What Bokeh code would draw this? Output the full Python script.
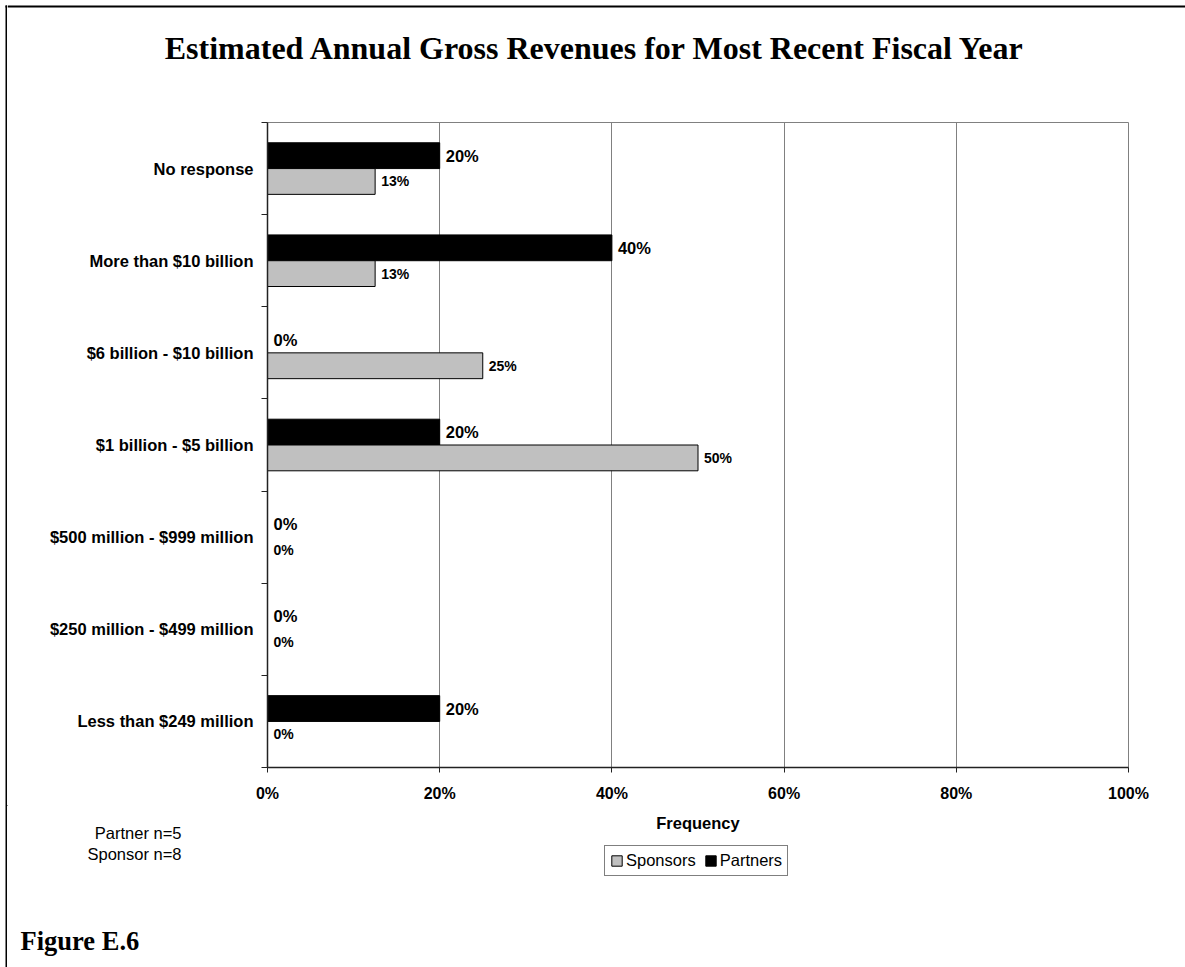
from bokeh.plotting import figure
from bokeh.layouts import row, column
from bokeh.models import (Range1d, FixedTicker, LinearAxis, CustomJSTickFormatter,
                          NumeralTickFormatter, ColumnDataSource, Label, Legend,
                          LegendItem, Grid)
from bokeh.embed import file_html
from bokeh.resources import INLINE
from bokeh.core.properties import value

# ---------------- data ----------------
categories = ["No response", "More than $10 billion", "$6 billion - $10 billion",
              "$1 billion - $5 billion", "$500 million - $999 million",
              "$250 million - $499 million", "Less than $249 million"]  # top to bottom
partners = [0.20, 0.40, 0.00, 0.20, 0.00, 0.00, 0.20]
sponsors = [0.125, 0.125, 0.25, 0.50, 0.00, 0.00, 0.00]
x_ticks = [0, 0.2, 0.4, 0.6, 0.8, 1.0]
series_names = ["Sponsors", "Partners"]
title_text = "Estimated Annual Gross Revenues for Most Recent Fiscal Year"
x_label = "Frequency"
notes = ["Partner n=5", "Sponsor n=8"]
figure_caption = "Figure E.6"

# ---------------- layout constants (page pixels) ----------------
W, H = 1185, 967
STRIP = 7                 # left strip holding the outer border line
CW = W - STRIP            # width of the content column
FL, FR, FT, FB = 267, 1128, 122, 767   # plot frame on the page
MAIN_TOP = 114
MAIN_BOTTOM = 805
SANS = "Liberation Sans"
SERIF = "Liberation Serif"
GRAY = "#c0c0c0"


def deco_fig(w, h):
    f = figure(width=w, height=h, output_backend="svg", toolbar_location=None,
               x_range=Range1d(0, w), y_range=Range1d(h, 0),
               x_axis_type=None, y_axis_type=None, min_border=0,
               frame_align=False)
    f.outline_line_color = None
    f.background_fill_color = "white"
    f.border_fill_color = "white"
    return f


n = len(categories)
bottom_to_top = categories[::-1]
pos = [n - i - 0.5 for i in range(n)]
off = 0.14
bar_h = 0.28


def pct(v):
    return f"{int(v * 100 + 0.5)}%"


src_p = ColumnDataSource(dict(y=[p_ + off for p_ in pos], v=partners,
                              lab=[pct(v) for v in partners]))
src_s = ColumnDataSource(dict(y=[p_ - off for p_ in pos], v=sponsors,
                              lab=[pct(v) for v in sponsors]))

# ---------------- main chart ----------------
p = figure(width=CW, height=MAIN_BOTTOM - MAIN_TOP, output_backend="svg",
           toolbar_location=None, x_range=Range1d(0, 1), y_range=Range1d(0, n),
           x_axis_type=None, y_axis_type=None, frame_align=False,
           min_border_left=FL - STRIP, min_border_right=W - FR,
           min_border_top=FT - MAIN_TOP, min_border_bottom=MAIN_BOTTOM - FB)
p.background_fill_color = "white"
p.border_fill_color = "white"
p.outline_line_color = "#808080"
p.outline_line_width = 1

xaxis = LinearAxis(ticker=FixedTicker(ticks=x_ticks, minor_ticks=[]),
                   formatter=NumeralTickFormatter(format="0%"))
xaxis.major_label_text_font = SANS
xaxis.major_label_text_font_style = "bold"
xaxis.major_label_text_font_size = "16px"
xaxis.major_label_text_color = "black"
xaxis.major_label_standoff = 12
xaxis.major_tick_out = 5
xaxis.major_tick_in = 0
xaxis.axis_line_color = "#222222"
xaxis.axis_line_width = 1.5
xaxis.major_tick_line_color = "#222222"
p.add_layout(xaxis, "below")

yaxis = LinearAxis(ticker=FixedTicker(ticks=pos, minor_ticks=list(range(n + 1))),
                   formatter=CustomJSTickFormatter(args=dict(labels=bottom_to_top),
                                                   code="return labels[Math.floor(tick)];"))
yaxis.major_label_text_font = SANS
yaxis.major_label_text_font_style = "bold"
yaxis.major_label_text_font_size = "16.5px"
yaxis.major_label_text_color = "black"
yaxis.major_label_standoff = 8
yaxis.major_tick_out = 0
yaxis.major_tick_in = 0
yaxis.minor_tick_out = 6
yaxis.minor_tick_in = 0
yaxis.minor_tick_line_color = "#222222"
yaxis.axis_line_color = "#222222"
yaxis.axis_line_width = 1.5
p.add_layout(yaxis, "left")

p.add_layout(Grid(dimension=0, ticker=xaxis.ticker, grid_line_color="#808080",
                  grid_line_width=1))

rp = p.hbar(y="y", left=0, right="v", height=bar_h, source=src_p,
            fill_color="black", line_color="black", line_width=1)
rs = p.hbar(y="y", left=0, right="v", height=bar_h, source=src_s,
            fill_color=GRAY, line_color="black", line_width=1)

p.text(x="v", y="y", text="lab", source=src_p, x_offset=6,
       text_baseline="middle", text_align="left", text_font=value(SANS),
       text_font_style="bold", text_font_size="16.5px", text_color="black")
p.text(x="v", y="y", text="lab", source=src_s, x_offset=6,
       text_baseline="middle", text_align="left", text_font=value(SANS),
       text_font_style="bold", text_font_size="14px", text_color="black")

# ---------------- left strip with outer border ----------------
strip = deco_fig(STRIP, H)
strip.segment(x0=[6, 5], y0=[5, 6], x1=[6, STRIP], y1=[H, 6],
              line_color="black", line_width=2)

# ---------------- top band: border + title ----------------
top = deco_fig(CW, MAIN_TOP)
top.segment(x0=[0], y0=[6], x1=[CW], y1=[6], line_color="black", line_width=2)
top.add_layout(Label(x=595 - STRIP, y=47, text=title_text, text_align="center",
                     text_baseline="middle", text_font=SERIF,
                     text_font_style="bold", text_font_size="32px",
                     text_color="black"))

# ---------------- bottom band: axis title, notes, legend, caption ----------------
BH = H - MAIN_BOTTOM
bot = deco_fig(CW, BH)
bot.add_layout(Label(x=(FL + FR) / 2 - STRIP, y=822 - MAIN_BOTTOM, text=x_label,
                     text_align="center", text_baseline="middle", text_font=SANS,
                     text_font_style="bold", text_font_size="16.5px", text_color="black"))
bot.add_layout(Label(x=181 - STRIP, y=832 - MAIN_BOTTOM, text=notes[0],
                     text_align="right", text_baseline="middle", text_font=SANS,
                     text_font_size="16.5px", text_color="black"))
bot.add_layout(Label(x=181 - STRIP, y=853 - MAIN_BOTTOM, text=notes[1],
                     text_align="right", text_baseline="middle", text_font=SANS,
                     text_font_size="16.5px", text_color="black"))
bot.add_layout(Label(x=20 - STRIP, y=940 - MAIN_BOTTOM, text=figure_caption,
                     text_align="left", text_baseline="middle", text_font=SERIF,
                     text_font_style="bold", text_font_size="26.5px", text_color="black"))

# legend proxies (same styling as the bars; one zero-size row lying outside the view)
lg_s = bot.hbar(y=[-1000], left=[0], right=[0], height=1, fill_color=GRAY,
                line_color="black", line_width=1)
lg_p = bot.hbar(y=[-1000], left=[0], right=[0], height=1, fill_color="black",
                line_color="black", line_width=1)
legend = Legend(items=[LegendItem(label=series_names[0], renderers=[lg_s]),
                       LegendItem(label=series_names[1], renderers=[lg_p])],
                orientation="horizontal",
                location=(604 - STRIP, BH - (876 - MAIN_BOTTOM)),
                glyph_width=13, glyph_height=13, label_standoff=3, spacing=8,
                padding=5, margin=0, label_text_font=SANS, label_text_font_size="16.5px",
                label_text_color="black", label_height=14,
                border_line_color="black", border_line_width=1,
                background_fill_color="white", background_fill_alpha=1)
bot.add_layout(legend)

layout = row(strip, column(top, p, bot, spacing=0), spacing=0)
open("out.html", "w").write(file_html(layout, INLINE))
